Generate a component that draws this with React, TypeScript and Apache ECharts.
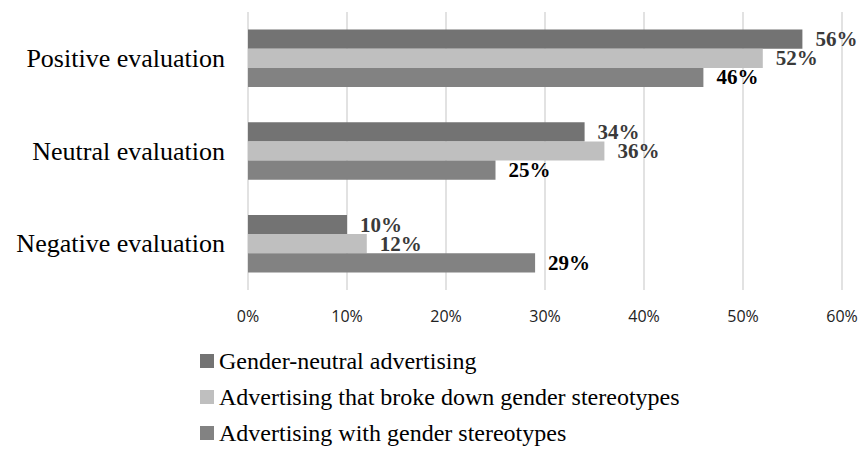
import React, { useEffect, useRef } from "react";
import * as echarts from "echarts";

const categories = ["Positive evaluation", "Neutral evaluation", "Negative evaluation"];
const seriesNames = [
  "Gender-neutral advertising",
  "Advertising that broke down gender stereotypes",
  "Advertising with gender stereotypes",
];
const genderNeutral = [56, 34, 10];
const brokeStereotypes = [52, 36, 12];
const withStereotypes = [46, 25, 29];
const xTicks = [0, 10, 20, 30, 40, 50, 60];

const colors = ["#737373", "#bfbfbf", "#828282"];
const labelColors = ["#3a3a3a", "#3a3a3a", "#000000"];

export default function App() {
  const ref = useRef<HTMLDivElement>(null);
  useEffect(() => {
    if (!ref.current) return;
    const chart = echarts.init(ref.current, null, { renderer: "svg" });
    const serif = "'Liberation Serif', 'Times New Roman', serif";
    const dataSets = [genderNeutral, brokeStereotypes, withStereotypes];
    chart.setOption({
      animation: false,
      grid: { left: 248, right: 19, top: 12, bottom: 161, containLabel: false },
      legend: {
        orient: "vertical",
        left: 200,
        top: 348,
        padding: 0,
        height: 103,
        icon: "rect",
        itemWidth: 14,
        itemHeight: 14,
        itemGap: 10,
        data: seriesNames,
        textStyle: { fontFamily: serif, fontSize: 24, color: "#000", lineHeight: 26 },
      },
      xAxis: {
        type: "value",
        min: xTicks[0],
        max: xTicks[xTicks.length - 1],
        interval: 10,
        axisLine: { show: false },
        axisTick: { show: false },
        splitLine: { show: true, lineStyle: { color: "#d9d9d9", width: 1.5 } },
        axisLabel: {
          formatter: (v: number) => v + "%",
          fontFamily: "'Open Sans', 'Liberation Sans', sans-serif",
          fontSize: 16,
          color: "#222",
          margin: 18,
        },
      },
      yAxis: {
        type: "category",
        data: categories,
        inverse: true,
        axisLine: { show: false },
        axisTick: { show: false },
        axisLabel: {
          fontFamily: serif,
          fontSize: 26,
          color: "#000",
          margin: 23,
        },
      },
      series: seriesNames.map((name, i) => ({
        name,
        type: "bar",
        data: dataSets[i],
        barGap: "0%",
        barCategoryGap: "38%",
        itemStyle: { color: colors[i] },
        label: {
          show: true,
          position: "right",
          distance: 13,
          formatter: (p: any) => p.value + "%",
          fontFamily: serif,
          fontWeight: "bold",
          fontSize: 21,
          lineHeight: 18,
          color: labelColors[i],
        },
      })),
    });
    return () => chart.dispose();
  }, []);
  return <div ref={ref} style={{ width: 861, height: 451, position: "absolute", left: 0, top: 0 }} />;
}
